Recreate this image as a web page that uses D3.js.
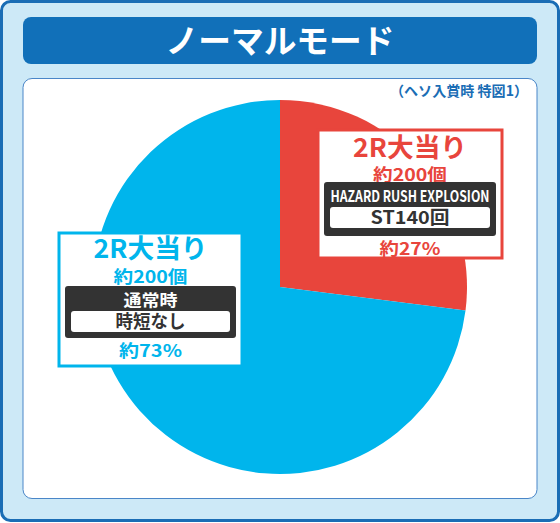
<!DOCTYPE html>
<html>
<head>
<meta charset="utf-8">
<script src="https://cdn.jsdelivr.net/npm/d3@7"></script>
<style>
  body { margin: 0; background: #fff; }
  svg { display: block; }
  text { font-family: "Noto Sans CJK JP", "Noto Sans", sans-serif; font-weight: 700; }
</style>
</head>
<body>
<div id="chart"></div>
<script>
// ノーマルモード pie
var title = "ノーマルモード"
var note = "（ヘソ入賞時 特図1）"
var rounds = ["2R大当り", "2R大当り"]
var payout = ["約200個", "約200個"]
var modes = ["HAZARD RUSH EXPLOSION", "通常時"]
var details = ["ST140回", "時短なし"]
var shares = [27, 73]
var colors = ["#e8453c", "#00b5ec"]

var W = 560, H = 523
var svg = d3.select('#chart').append('svg').attr('width', W).attr('height', H)

// frame
svg.append('rect')
  .attr('x', 1.5).attr('y', 1.5).attr('width', W - 3).attr('height', H - 4)
  .attr('rx', 9).attr('fill', '#cde9f7').attr('stroke', '#1a6db5').attr('stroke-width', 3)

svg.append('rect')
  .attr('x', 23).attr('y', 17).attr('width', 514).attr('height', 47)
  .attr('rx', 8).attr('fill', '#1170b9')

svg.append('text')
  .attr('x', 280).attr('y', 53).attr('text-anchor', 'middle')
  .attr('fill', '#fff').attr('font-size', 33)
  .attr('textLength', 229).attr('lengthAdjust', 'spacingAndGlyphs')
  .text(title)

svg.append('rect')
  .attr('x', 23).attr('y', 78.5).attr('width', 514).attr('height', 420)
  .attr('rx', 9).attr('fill', '#fff').attr('stroke', '#4a86c8').attr('stroke-width', 1)

svg.append('text')
  .attr('x', 459).attr('y', 96).attr('text-anchor', 'middle')
  .attr('fill', '#1a6db5').attr('font-size', 14)
  .attr('textLength', 138).attr('lengthAdjust', 'spacingAndGlyphs')
  .text(note)

// pie
var cx = 280, cy = 287, R = 187
var pie = d3.pie().sort(null).value(function(d){ return d })
var arc = d3.arc().innerRadius(0).outerRadius(R)

svg.append('g').attr('transform', 'translate(' + cx + ',' + cy + ')')
  .selectAll('path').data(pie(shares)).enter().append('path')
  .attr('d', arc)
  .attr('fill', function(d, i){ return colors[i] })

// label boxes
var boxes = [
  {x: 318, y: 130, w: 184, h: 128, t1: 27, t2: 51, dy: 52, dh: 54, pct: 125,
   lw: [114, 74, 159, 79, 61]},
  {x: 59, y: 233, w: 183, h: 133, t1: 25, t2: 50, dy: 53, dh: 52, pct: 124,
   lw: [114, 74, 54, 70, 63]}
]

function fit(sel, len){
  return sel.attr('textLength', len).attr('lengthAdjust', 'spacingAndGlyphs')
}

boxes.forEach(function(b, i){
  var g = svg.append('g').attr('transform', 'translate(' + b.x + ',' + b.y + ')')
  var mid = b.w / 2
  g.append('rect').attr('width', b.w).attr('height', b.h)
    .attr('fill', '#fff').attr('stroke', colors[i]).attr('stroke-width', 3)

  fit(g.append('text').attr('x', mid).attr('y', b.t1).attr('text-anchor', 'middle')
    .attr('fill', colors[i]).attr('font-size', 26).text(rounds[i]), b.lw[0])
  fit(g.append('text').attr('x', mid).attr('y', b.t2).attr('text-anchor', 'middle')
    .attr('fill', colors[i]).attr('font-size', 17).text(payout[i]), b.lw[1])

  g.append('rect').attr('x', 6).attr('y', b.dy).attr('width', b.w - 12).attr('height', b.dh)
    .attr('rx', 3).attr('fill', '#333')
  var t = fit(g.append('text').attr('x', mid).attr('y', b.dy + 20).attr('text-anchor', 'middle')
    .attr('fill', '#fff').attr('font-size', 16).text(modes[i]), b.lw[2])
  if (i == 0) {
    t.attr('font-family', '"Liberation Sans Narrow", "Liberation Sans", sans-serif')
  }
  g.append('rect').attr('x', 12).attr('y', b.dy + 25).attr('width', b.w - 24).attr('height', 21)
    .attr('rx', 3).attr('fill', '#fff')
  fit(g.append('text').attr('x', mid).attr('y', b.dy + 42).attr('text-anchor', 'middle')
    .attr('fill', '#333').attr('font-size', 18).text(details[i]), b.lw[3])

  fit(g.append('text').attr('x', mid).attr('y', b.pct).attr('text-anchor', 'middle')
    .attr('fill', colors[i]).attr('font-size', 17).text('約' + shares[i] + '%'), b.lw[4])
})
</script>
</body>
</html>
